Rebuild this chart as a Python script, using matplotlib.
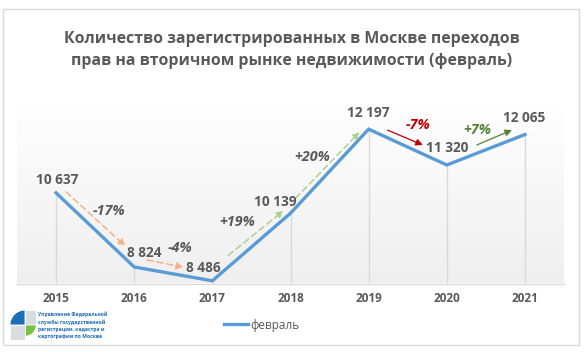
import matplotlib
matplotlib.use("Agg")
import matplotlib.pyplot as plt
import matplotlib.transforms as mtransforms
from matplotlib.patches import Rectangle, Wedge
from matplotlib.colors import LinearSegmentedColormap
import numpy as np

years = ["2015", "2016", "2017", "2018", "2019", "2020", "2021"]
values = [10637, 8824, 8486, 10139, 12197, 11320, 12065]
value_labels = ["10 637", "8 824", "8 486", "10 139", "12 197", "11 320", "12 065"]
change_labels = ["-17%", "-4%", "+19%", "+20%", "-7%", "+7%"]
series_name = "февраль"
title = "Количество зарегистрированных в Москве переходов\nправ на вторичном рынке недвижимости (февраль)"
logo_text = "Управление Федеральной\nслужбы государственной\nрегистрации, кадастра и\nкартографии по Москве"

W, H = 585, 352
fig = plt.figure(figsize=(W / 100, H / 100), dpi=100)
fig.patch.set_facecolor("white")

FONT = "Open Sans"
GRAY = "#595959"
LINE = "#5B9BD5"

# outer frame
fig.add_artist(Rectangle((3 / W, 1 - 345 / H), 576 / W, 336 / H, transform=fig.transFigure,
                         fill=False, edgecolor="#D9D9D9", lw=1.0))

ax = fig.add_axes([17 / W, 1 - 283.5 / H, 547 / W, 183.5 / H])
x = np.arange(len(years))
ax.set_xlim(-0.5, len(years) - 0.5)
ax.set_ylim(8420, 12910)

# gradient background
grad = np.linspace(0.0, 1.0, 256).reshape(-1, 1)
cmap = LinearSegmentedColormap.from_list("g", ["#FFFFFF", "#EFEFEF"])
ax.imshow(grad, extent=(0, 1, 0, 1), transform=ax.transAxes, cmap=cmap,
          aspect="auto", zorder=0, vmin=0, vmax=1)

for s in ["top", "right", "left"]:
    ax.spines[s].set_visible(False)
ax.spines["bottom"].set_color("#D9D9D9")
ax.spines["bottom"].set_linewidth(1.0)
ax.set_yticks([])
ax.set_xticks(x)
ax.set_xticklabels(years, fontsize=8.5, fontweight="bold", color=GRAY, family=FONT)
ax.tick_params(axis="x", length=0, pad=6)

# drop lines
ax.vlines(x, 8420, values, color="#D9D9D9", lw=1.0, zorder=1)

ax.plot(x, values, color=LINE, lw=2.4, solid_joinstyle="miter", zorder=3, label=series_name)

def off(dx, dy):
    return mtransforms.offset_copy(ax.transData, fig=fig, x=dx, y=dy, units="dots")

# data labels (pixel offsets from points)
lab_off = [(1, 13), (10, 14), (-9.5, 13), (-15, 11), (0, 16), (0, 17), (-0.5, 17)]
for i, (v, t) in enumerate(zip(values, value_labels)):
    dx, dy = lab_off[i]
    ax.text(x[i], v, t, transform=off(dx, dy), ha="center", va="center",
            fontsize=9.8, fontweight="bold", color=GRAY, family=FONT, zorder=5)

# change arrows: start offset from point i, end offset from point i+1
arrow_styles = [
    dict(color="#F4B183", ls=(0, (4, 2.5)), lw=1.1),
    dict(color="#F4B183", ls=(0, (4, 2.5)), lw=1.1),
    dict(color="#A9D18E", ls=(0, (4, 2.5)), lw=1.1),
    dict(color="#A9D18E", ls=(0, (4, 2.5)), lw=1.1),
    dict(color="#C00000", ls="-", lw=0.9),
    dict(color="#548235", ls="-", lw=0.9),
]
arrow_off = [
    ((10, 1), (-9, 21)),
    ((13, 7), (-29, 13.5)),
    ((16, 25.5), (-7, 2.5)),
    ((5, 15), (-9, -3)),
    ((19, -1), (-24, 20)),
    ((30, 20), (-13, 4.5)),
]
pct_off = [(53, -18), (46, 19), (25, 58.5), (22, 56), (49, 4), (30, 35)]
pct_colors = [GRAY, GRAY, GRAY, GRAY, "#C00000", "#548235"]

for i in range(len(change_labels)):
    (sx, sy), (ex, ey) = arrow_off[i]
    st = arrow_styles[i]
    ax.annotate("", xy=(x[i + 1], values[i + 1]), xycoords=off(ex, ey),
                xytext=(x[i], values[i]), textcoords=off(sx, sy),
                arrowprops=dict(arrowstyle="-|>", color=st["color"], lw=st["lw"],
                                linestyle=st["ls"], mutation_scale=10,
                                shrinkA=0, shrinkB=0),
                zorder=4)
    px, py = pct_off[i]
    ax.text(x[i], values[i], change_labels[i], transform=off(px, py), ha="center", va="center",
            fontsize=10.3, fontweight="bold", style="italic", color=pct_colors[i],
            family=FONT, zorder=5)

# title
fig.text(292 / W, 1 - 50 / H, title, ha="center", va="center", fontsize=11.4,
         fontweight="bold", color=GRAY, family=FONT, linespacing=1.5)

# legend
leg = fig.legend(loc="center", bbox_to_anchor=(262 / W, 1 - 325 / H), frameon=False,
                 handlelength=2.0, handletextpad=0.2,
                 prop=dict(family=FONT, size=8.5))
for t in leg.get_texts():
    t.set_color(GRAY)

# logo
lax = fig.add_axes([8 / W, 1 - 346 / H, 40 / W, 40 / H])
lax.set_xlim(0, 40)
lax.set_ylim(0, 40)
lax.axis("off")
cx, cy, r = 17, 21, 15
lax.add_patch(Wedge((cx, cy), r, 90, 180, facecolor="#1F6DB6", edgecolor="white", lw=0.6))
lax.add_patch(Rectangle((cx, cy), r * 0.75, r, facecolor="#D9DDE2", edgecolor="white", lw=0.6))
lax.add_patch(Wedge((cx, cy), r * 0.75, 270, 360, facecolor="#7AC143", edgecolor="white", lw=0.6))
lax.add_patch(Rectangle((cx - r, cy - r), r, r, facecolor="#D9DDE2", edgecolor="white", lw=0.6))
fig.text(38 / W, 1 - 325 / H, logo_text, ha="left", va="center", fontsize=3.6,
         fontweight="bold", color="#1F6DB6", family=FONT, linespacing=1.5)

fig.savefig("out.png", dpi=100, facecolor="white")
